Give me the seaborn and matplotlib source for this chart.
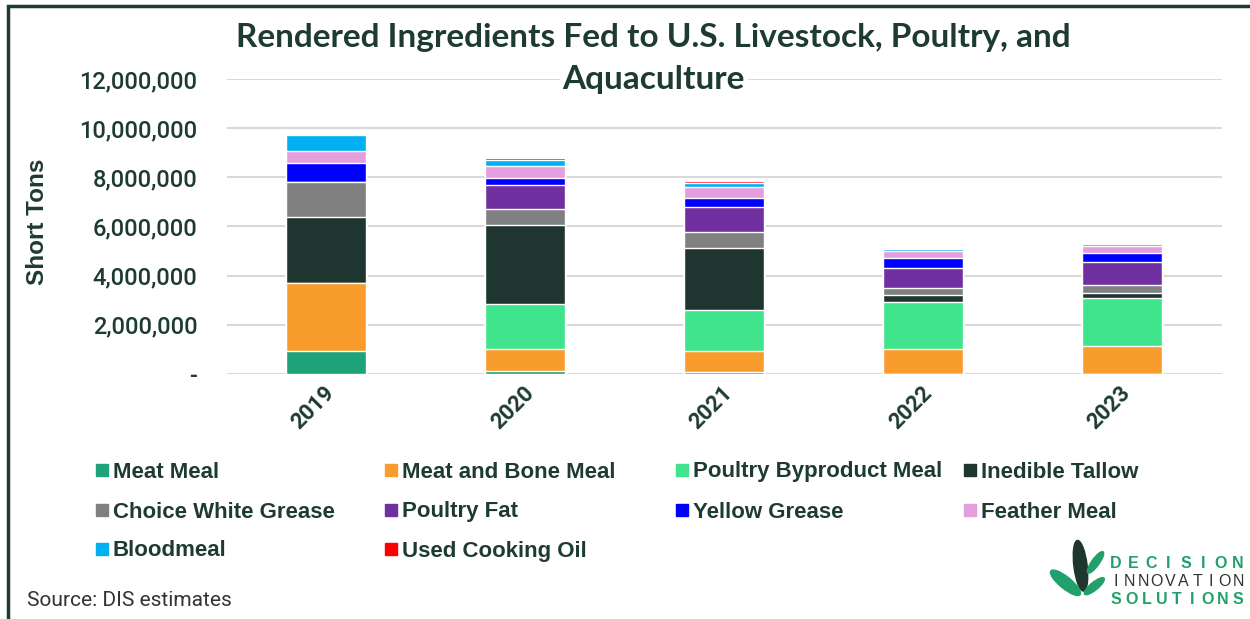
import numpy as np
import pandas as pd
import seaborn as sns
import matplotlib.pyplot as plt
from matplotlib.patches import Rectangle, Ellipse
from matplotlib.ticker import FuncFormatter
from matplotlib.transforms import ScaledTranslation

# values (short tons)
years = ['2019', '2020', '2021', '2022', '2023']
meat_meal = [950000, 125000, 90000, 0, 0]
meat_bone_meal = [2760000, 895000, 840000, 1005000, 1150000]
poultry_byproduct = [0, 1820000, 1670000, 1935000, 1950000]
inedible_tallow = [2660000, 3225000, 2510000, 260000, 205000]
choice_white_grease = [1450000, 640000, 650000, 310000, 315000]
poultry_fat = [0, 965000, 1040000, 800000, 935000]
yellow_grease = [750000, 300000, 365000, 395000, 355000]
feather_meal = [510000, 500000, 425000, 310000, 300000]
bloodmeal = [650000, 245000, 185000, 70000, 70000]
used_cooking_oil = [0, 70000, 57000, 40000, 52000]

names = ['Meat Meal', 'Meat and Bone Meal', 'Poultry Byproduct Meal', 'Inedible Tallow',
         'Choice White Grease', 'Poultry Fat', 'Yellow Grease', 'Feather Meal',
         'Bloodmeal', 'Used Cooking Oil']
series = [meat_meal, meat_bone_meal, poultry_byproduct, inedible_tallow, choice_white_grease,
          poultry_fat, yellow_grease, feather_meal, bloodmeal, used_cooking_oil]
colors = ['#1fa37a', '#f99c2e', '#40e48c', '#1f3630', '#808080',
          '#7030a0', '#0000ff', '#e49edd', '#00b0f0', '#ff0000']

dark = '#1e3b33'
W, H = 1250, 619

sns.set_style('white')
plt.rcParams['font.family'] = ['Roboto', 'DejaVu Sans']

fig = plt.figure(figsize=(12.5, 6.19), dpi=100)
ax = fig.add_axes([0.1812, 0.3958, 0.796, 0.4766])

# stacked bars: draw cumulative totals from the top layer down
df = pd.DataFrame(dict(zip(names, series)), index=years)
cum = df.cumsum(axis=1)
for name, col in reversed(list(zip(names, colors))):
    sns.barplot(x=years, y=cum[name].values, color=col, width=0.4, ax=ax,
                saturation=1, zorder=3)

ax.set_ylim(0, 12000000)
ax.set_yticks(np.arange(0, 12000001, 2000000))
ax.yaxis.set_major_formatter(FuncFormatter(lambda v, p: '-' if v == 0 else f'{int(v):,}'))
ax.grid(axis='y', color='#d9d9d9', linewidth=1.5, zorder=0)
for s in ax.spines.values():
    s.set_visible(False)
ax.tick_params(axis='y', length=0, pad=21, labelsize=17, labelcolor=dark)
ax.tick_params(axis='x', length=0, pad=6, labelsize=16, labelcolor=dark)
for lab in ax.get_yticklabels():
    lab.set_fontweight('medium')
shift = ScaledTranslation(-9 / 72, 0, fig.dpi_scale_trans)
for lab in ax.get_xticklabels():
    lab.set_rotation(45)
    lab.set_fontweight('bold')
    lab.set_transform(lab.get_transform() + shift)
ax.set_ylabel('Short Tons', fontsize=17.5, fontweight='bold', color=dark,
              family='Liberation Sans', labelpad=0)
ax.yaxis.set_label_coords(-0.178, 0.517)

# title, second line sits on the top gridline with a white background
fig.text(0.523, 1 - 38 / H, 'Rendered Ingredients Fed to U.S. Livestock, Poultry, and',
         ha='center', va='center', fontsize=24, fontweight='bold', color=dark, family='Lato')
fig.text(0.523, 1 - 80 / H, 'Aquaculture',
         ha='center', va='center', fontsize=24, fontweight='bold', color=dark, family='Lato',
         bbox=dict(facecolor='white', edgecolor='none', pad=2), zorder=5)

# legend, laid out row by row like the original
text_x = [113, 402, 693, 981]
row_y = [470, 510, 549]
for i, (name, col) in enumerate(zip(names, colors)):
    r, c = divmod(i, 4)
    x, y = text_x[c], row_y[r]
    fig.add_artist(Rectangle(((x - 17) / W, 1 - (y + 6) / H), 12 / W, 12 / H,
                             transform=fig.transFigure, color=col))
    fig.text(x / W, 1 - (y + 2) / H, name, ha='left', va='center', fontsize=16,
             fontweight='bold', color=dark, family='Liberation Sans')

fig.text(27 / W, 1 - 601 / H, 'Source: DIS estimates', fontsize=15, color='#333333',
         family='Roboto', va='center')

# logo
logo_rows = [('DECISION', 563, 'bold', '#22a06b'),
             ('INNOVATION', 582, 'normal', '#333333'),
             ('SOLUTIONS', 600, 'bold', '#22a06b')]
for word, y, wt, col in logo_rows:
    xs = np.linspace(1116, 1238, len(word))
    for ch, x in zip(word, xs):
        fig.text(x / W, 1 - y / H, ch, ha='center', va='center', fontsize=11.5,
                 fontweight=wt, color=col, family='Liberation Sans')
lax = fig.add_axes([0.838, 0.02, 0.048, 0.11])
lax.set_xlim(0, 1)
lax.set_ylim(0, 1)
lax.axis('off')
lax.add_patch(Ellipse((0.55, 0.6), 0.22, 0.75, angle=8, color='#1f3630'))
lax.add_patch(Ellipse((0.3, 0.35), 0.18, 0.6, angle=55, color='#22a06b'))
lax.add_patch(Ellipse((0.8, 0.65), 0.12, 0.4, angle=-40, color='#22a06b'))
lax.add_patch(Ellipse((0.78, 0.3), 0.12, 0.4, angle=-55, color='#22a06b'))

# frame
fig.add_artist(Rectangle((0.0065, -0.05), 1.1, 1.04, transform=fig.transFigure,
                         fill=False, edgecolor=dark, linewidth=2.5))

fig.savefig('out.png', dpi=100, facecolor='white')
